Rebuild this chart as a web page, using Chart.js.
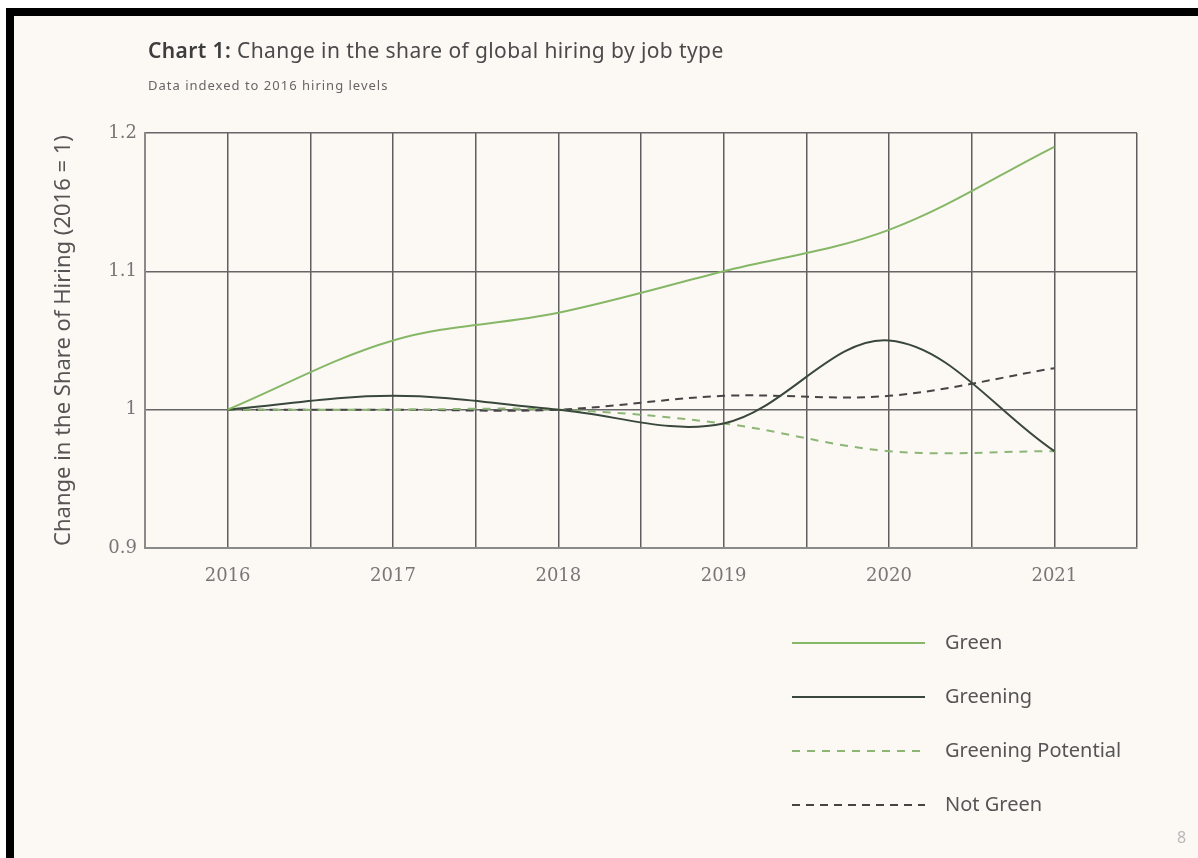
<!DOCTYPE html>
<html>
<head>
<meta charset="utf-8">
<script src="https://cdn.jsdelivr.net/npm/chart.js@4/dist/chart.umd.min.js"></script>
<style>
    html, body { margin: 0; padding: 0; background: #fff; }
    .page {
        position: relative;
        width: 1198px;
        height: 858px;
        background: #fcf9f5;
        overflow: hidden;
        font-family: 'Noto Sans', sans-serif;
    }
    .edge-top { position: absolute; left: 0; top: 0; width: 1198px; height: 8px; background: #fff; }
    .bar-top { position: absolute; left: 0; top: 8px; width: 1198px; height: 8px; background: #000; }
    .edge-left { position: absolute; left: 0; top: 0; width: 6px; height: 858px; background: #fff; }
    .bar-left { position: absolute; left: 6px; top: 8px; width: 8px; height: 850px; background: #000; }
    .title { position: absolute; left: 148px; top: 36px; font-size: 21px; color: #4a4a4a; letter-spacing: 0.4px; }
    .title b { color: #3d3d3d; font-weight: 600; }
    .subtitle { position: absolute; left: 148px; top: 76px; font-size: 13px; color: #666; letter-spacing: 1px; }
    .pageno { position: absolute; left: 1177px; top: 826px; font-size: 16px; color: #b8b8b8; }
    #chart { position: absolute; left: 0; top: 0; }
</style>
</head>
<body>
<div class="page">
    <canvas id="chart" width="1198" height="858"></canvas>
    <div class="edge-top"></div>
    <div class="bar-top"></div>
    <div class="edge-left"></div>
    <div class="bar-left"></div>
    <div class="title"><b>Chart 1:</b> Change in the share of global hiring by job type</div>
    <div class="subtitle">Data indexed to 2016 hiring levels</div>
    <div class="pageno">8</div>
</div>
<script>
// Hiring share indexed to 2016 = 1
const years = [2016, 2017, 2018, 2019, 2020, 2021];
const green = [1.00, 1.05, 1.07, 1.10, 1.13, 1.19];
const greening = [1.00, 1.01, 1.00, 0.99, 1.05, 0.97];
const greeningPotential = [1.00, 1.00, 1.00, 0.99, 0.97, 0.97];
const notGreen = [1.00, 1.00, 1.00, 1.01, 1.01, 1.03];
const yTicks = [0.9, 1.0, 1.1, 1.2];

const toPoints = (vals) => vals.map((v, i) => ({ x: years[i], y: v }));

// Legend drawn under the plot, right side, one entry per row
const sideLegend = {
    id: 'sideLegend',
    afterDraw(chart) {
        const ctx = chart.ctx;
        const rows = [643, 697, 751, 805];
        ctx.save();
        chart.data.datasets.forEach((ds, i) => {
            const y = rows[i];
            ctx.beginPath();
            ctx.strokeStyle = ds.borderColor;
            ctx.lineWidth = 2;
            ctx.setLineDash(ds.borderDash || []);
            ctx.moveTo(792, y);
            ctx.lineTo(925, y);
            ctx.stroke();
            ctx.setLineDash([]);
            ctx.fillStyle = '#555';
            ctx.font = "20px 'Noto Sans', sans-serif";
            ctx.textBaseline = 'middle';
            ctx.fillText(ds.label, 945, y);
        });
        ctx.restore();
    }
};

new Chart(document.getElementById('chart'), {
    type: 'line',
    data: {
        datasets: [{
            label: 'Green',
            data: toPoints(green),
            borderColor: '#86b767',
            borderWidth: 2,
            tension: 0.35
        }, {
            label: 'Greening',
            data: toPoints(greening),
            borderColor: '#3a473b',
            borderWidth: 2,
            tension: 0.35
        }, {
            label: 'Greening Potential',
            data: toPoints(greeningPotential),
            borderColor: '#8db676',
            borderDash: [8, 7],
            borderWidth: 2,
            tension: 0.35
        }, {
            label: 'Not Green',
            data: toPoints(notGreen),
            borderColor: '#454545',
            borderDash: [8, 6],
            borderWidth: 2,
            tension: 0.35
        }]
    },
    options: {
        responsive: false,
        animation: false,
        layout: { padding: { left: 0, top: 133, right: 61, bottom: 0 } },
        elements: { point: { radius: 0 } },
        plugins: {
            legend: { display: false },
            tooltip: { enabled: false }
        },
        scales: {
            x: {
                type: 'linear',
                min: 2015.5,
                max: 2021.5,
                afterFit: (scale) => { scale.height = 310; },
                grid: { color: '#5f5f5f', lineWidth: 1.5, drawTicks: false },
                border: { display: true, color: '#8a8a8a', width: 2 },
                ticks: {
                    stepSize: 0.5,
                    autoSkip: false,
                    maxRotation: 0,
                    padding: 18,
                    color: '#777',
                    font: { family: "'DejaVu Serif', serif", size: 18 },
                    callback: (v) => Number.isInteger(v) ? String(v) : ''
                }
            },
            y: {
                min: 0.9,
                max: 1.2,
                afterFit: (scale) => { scale.width = 145; },
                afterBuildTicks: (scale) => { scale.ticks = yTicks.map(v => ({ value: v })); },
                grid: { color: '#666', lineWidth: 1.5, drawTicks: false },
                border: { display: true, color: '#8a8a8a', width: 2 },
                ticks: {
                    padding: 8,
                    color: '#777',
                    font: { family: "'DejaVu Serif', serif", size: 18 },
                    callback: (v) => String(Number(v.toFixed(1)))
                },
                title: {
                    display: true,
                    text: 'Change in the Share of Hiring (2016 = 1)',
                    color: '#555',
                    font: { family: "'Noto Sans', sans-serif", size: 22 },
                    padding: { top: 51, bottom: 0 }
                }
            }
        }
    },
    plugins: [sideLegend]
});
</script>
</body>
</html>
